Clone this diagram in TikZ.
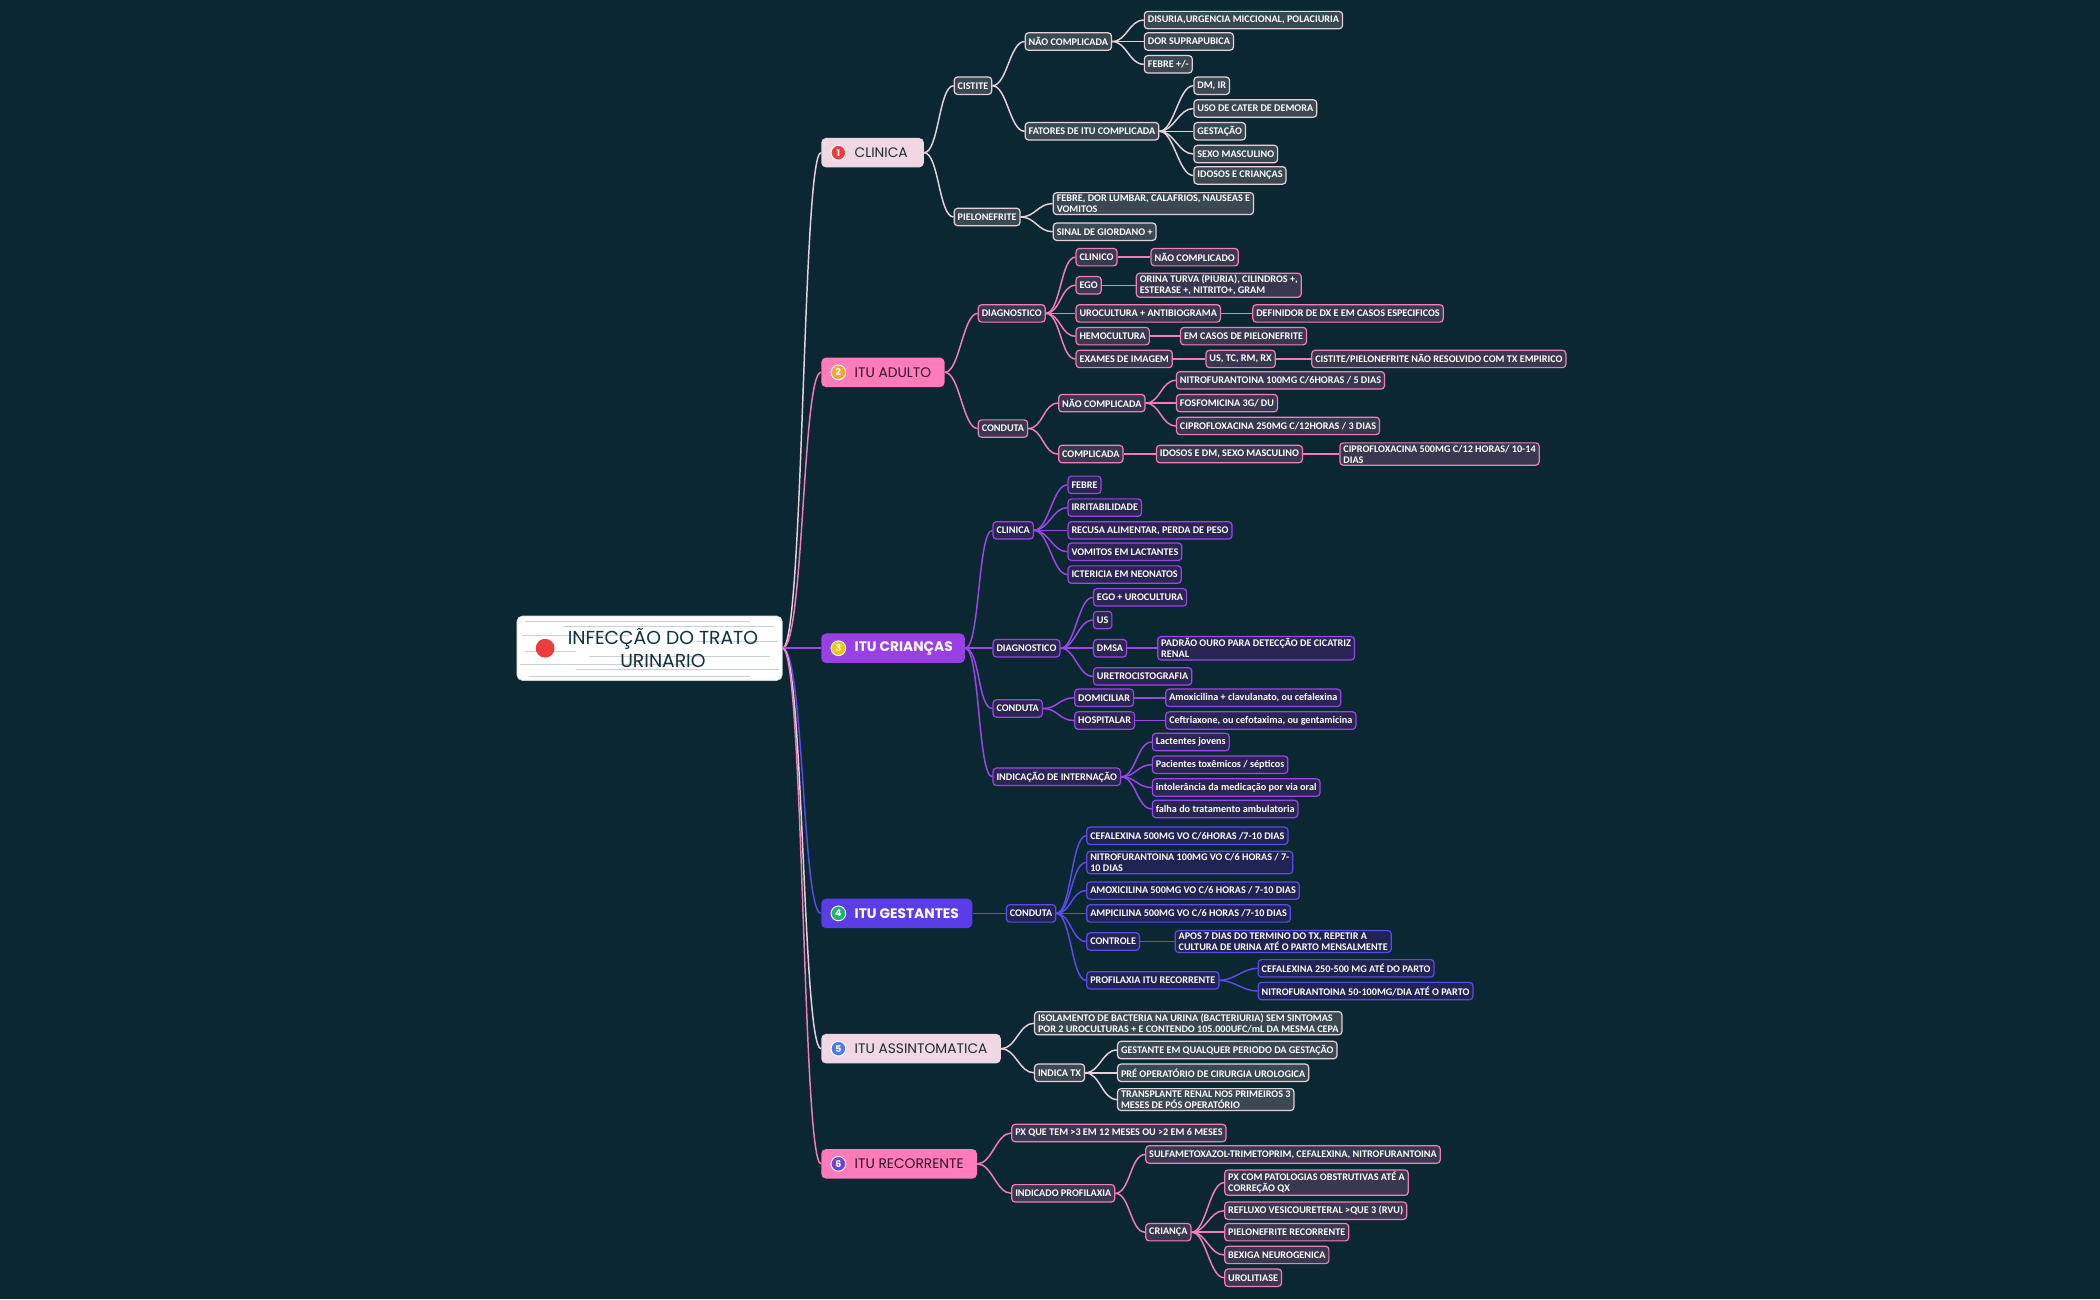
\documentclass[tikz,border=0pt]{standalone}
\usepackage{fontspec}
\setmainfont{Carlito}
\newfontfamily\popf{Poppins}
\definecolor{bg}{HTML}{0B2832}
\definecolor{lpinkM}{HTML}{EFD8E3}
\definecolor{lpinkB}{HTML}{E6D1DB}
\definecolor{slateF}{HTML}{3A4852}
\definecolor{pinkM}{HTML}{FF7BB9}
\definecolor{pinkB}{HTML}{F47CB9}
\definecolor{pinkF}{HTML}{3A3850}
\definecolor{violM}{HTML}{9A3FE6}
\definecolor{violB}{HTML}{9C45EA}
\definecolor{violF}{HTML}{2A2552}
\definecolor{indM}{HTML}{5A3DE6}
\definecolor{indB}{HTML}{5B4BEA}
\definecolor{indF}{HTML}{1F2454}
\definecolor{darkT}{HTML}{1F2A33}
\definecolor{pinkT}{HTML}{2B1626}
\definecolor{rootT}{HTML}{12303A}
\definecolor{texG}{HTML}{C9D0D4}
\definecolor{bRed}{HTML}{EE3B3B}
\definecolor{bOra}{HTML}{F7A233}
\definecolor{bYel}{HTML}{F2C40F}
\definecolor{bGre}{HTML}{1FB46E}
\definecolor{bBlu}{HTML}{4C79F2}
\definecolor{bPur}{HTML}{6A45D6}
\tikzset{
  sub/.style={draw, rounded corners=2.5pt, line width=0.9pt, inner xsep=2.6pt, inner ysep=1.5pt,
    minimum height=13pt, anchor=west, align=left, text=white,
    font=\fontsize{7.6}{8.3}\selectfont\bfseries},
  subL/.style={sub, fill=slateF, draw=lpinkB},
  subP/.style={sub, fill=pinkF, draw=pinkB},
  subV/.style={sub, fill=violF, draw=violB},
  subI/.style={sub, fill=indF, draw=indB},
  mainb/.style={rounded corners=3.5pt, minimum height=22pt, inner xsep=0pt, inner ysep=0pt, anchor=west,
    font=\popf\fontsize{10.3}{12}\selectfont},
  mainbold/.style={mainb, font=\popf\bfseries\fontsize{10.3}{12}\selectfont},
  badge/.style={circle, draw=white, line width=0.7pt, inner sep=0pt, minimum size=11pt, text=white,
    font=\popf\bfseries\fontsize{7}{7}\selectfont},
  cLk/.style={draw=lpinkB, line width=1.1pt},
  cPk/.style={draw=pinkB, line width=1.1pt},
  cVi/.style={draw=violB, line width=1.1pt},
  cIn/.style={draw=indB, line width=1.1pt},
}
\newcommand\cnx[3]{\draw[#1] (#2.east) .. controls ([xshift=11pt]#2.east) and ([xshift=-11pt]#3.west) .. (#3.west);}
\newcommand\rootcnx[2]{\draw[#1] (root.east) .. controls ([xshift=16pt]root.east) and ([xshift=-14pt]#2.west) .. (#2.west);}
\begin{document}
\begin{tikzpicture}[x=1pt,y=-1pt]
\useasboundingbox (0,0) rectangle (1568,970);
\fill[bg] (0,0) rectangle (1568,970);

% ---------- root ----------
\node[draw=texG, fill=white, rounded corners=4pt, line width=0.6pt, minimum width=198pt, minimum height=48pt, inner sep=0pt] (root) at (485,484) {};
\foreach \yy/\xa/\xb in {464/392/560, 468/420/578, 474/390/470, 479/520/580, 486/392/430, 490/440/575, 496/388/520, 500/430/582, 505/395/560}
  \draw[texG, line width=0.5pt] (\xa,\yy) -- (\xb,\yy);
\node[circle, fill=bRed, inner sep=0pt, minimum size=14pt] (rdot) at (407,484) {};
\node[text=rootT, align=center, font=\popf\fontsize{14}{17}\selectfont] (rootTx) at (495,484) {INFECÇÃO DO TRATO\\URINARIO};

% ---------- main nodes ----------
\node[mainb, fill=lpinkM, text=darkT] (m1) at (613,114) {\hspace*{25pt}CLINICA\hspace*{12pt}};
\node[mainb, fill=pinkM, text=pinkT] (m2) at (613,278) {\hspace*{25pt}ITU ADULTO\hspace*{10pt}};
\node[mainbold, fill=violM, text=white] (m3) at (613,484) {\hspace*{25pt}ITU CRIANÇAS\hspace*{9pt}};
\node[mainbold, fill=indM, text=white] (m4) at (613,682) {\hspace*{25pt}ITU GESTANTES\hspace*{10pt}};
\node[mainb, fill=lpinkM, text=darkT] (m5) at (613,783) {\hspace*{25pt}ITU ASSINTOMATICA\hspace*{10pt}};
\node[mainb, fill=pinkM, text=pinkT] (m6) at (613,869) {\hspace*{25pt}ITU RECORRENTE\hspace*{10pt}};
\node[badge, fill=bRed] (bd1) at (626,114) {1};
\node[badge, fill=bOra] (bd2) at (626,278) {2};
\node[badge, fill=bYel] (bd3) at (626,484) {3};
\node[badge, fill=bGre] (bd4) at (626,682) {4};
\node[badge, fill=bBlu] (bd5) at (626,783) {5};
\node[badge, fill=bPur] (bd6) at (626,869) {6};

\rootcnx{cLk}{m1}
\rootcnx{cPk}{m2}
\rootcnx{cVi}{m3}
\rootcnx{cIn}{m4}
\rootcnx{cLk}{m5}
\rootcnx{cPk}{m6}

% ---------- 1 CLINICA ----------
\node[subL] (a1) at (712,64) {CISTITE};
\node[subL] (a2) at (765,31) {NÃO COMPLICADA};
\node[subL] (a3) at (854,15) {DISURIA,URGENCIA MICCIONAL, POLACIURIA};
\node[subL] (a4) at (854,31) {DOR SUPRAPUBICA};
\node[subL] (a5) at (854,48) {FEBRE +/-};
\node[subL] (a6) at (765,98) {FATORES DE ITU COMPLICADA};
\node[subL] (a7) at (891,64) {DM, IR};
\node[subL] (a8) at (891,81) {USO DE CATER DE DEMORA};
\node[subL] (a9) at (891,98) {GESTAÇÃO};
\node[subL] (a10) at (891,115) {SEXO MASCULINO};
\node[subL] (a11) at (891,131) {IDOSOS E CRIANÇAS};
\node[subL] (a12) at (712,162) {PIELONEFRITE};
\node[subL] (a13) at (786,152) {FEBRE, DOR LUMBAR, CALAFRIOS, NAUSEAS E\\VOMITOS};
\node[subL] (a14) at (786,173) {SINAL DE GIORDANO +};
\cnx{cLk}{m1}{a1}\cnx{cLk}{m1}{a12}
\cnx{cLk}{a1}{a2}\cnx{cLk}{a1}{a6}
\cnx{cLk}{a2}{a3}\cnx{cLk}{a2}{a4}\cnx{cLk}{a2}{a5}
\cnx{cLk}{a6}{a7}\cnx{cLk}{a6}{a8}\cnx{cLk}{a6}{a9}\cnx{cLk}{a6}{a10}\cnx{cLk}{a6}{a11}
\cnx{cLk}{a12}{a13}\cnx{cLk}{a12}{a14}

% ---------- 2 ITU ADULTO ----------
\node[subP] (b1) at (730,234) {DIAGNOSTICO};
\node[subP] (b2) at (803,192) {CLINICO};
\node[subP] (b3) at (859,192) {NÃO COMPLICADO};
\node[subP] (b4) at (803,213) {EGO};
\node[subP] (b5) at (848,213) {ORINA TURVA (PIURIA), CILINDROS +,\\ESTERASE +, NITRITO+, GRAM};
\node[subP] (b6) at (803,234) {UROCULTURA + ANTIBIOGRAMA};
\node[subP] (b7) at (935,234) {DEFINIDOR DE DX E EM CASOS ESPECIFICOS};
\node[subP] (b8) at (803,251) {HEMOCULTURA};
\node[subP] (b9) at (881,251) {EM CASOS DE PIELONEFRITE};
\node[subP] (b10) at (803,268) {EXAMES DE IMAGEM};
\node[subP] (b11) at (900,268) {US, TC, RM, RX};
\node[subP] (b12) at (979,268) {CISTITE/PIELONEFRITE NÃO RESOLVIDO COM TX EMPIRICO};
\node[subP] (b13) at (730,320) {CONDUTA};
\node[subP] (b14) at (790,301) {NÃO COMPLICADA};
\node[subP] (b15) at (878,284) {NITROFURANTOINA 100MG C/6HORAS / 5 DIAS};
\node[subP] (b16) at (878,301) {FOSFOMICINA 3G/ DU};
\node[subP] (b17) at (878,318) {CIPROFLOXACINA 250MG C/12HORAS / 3 DIAS};
\node[subP] (b18) at (790,339) {COMPLICADA};
\node[subP] (b19) at (863,339) {IDOSOS E DM, SEXO MASCULINO};
\node[subP] (b20) at (1000,339) {CIPROFLOXACINA 500MG C/12 HORAS/ 10-14\\DIAS};
\cnx{cPk}{m2}{b1}\cnx{cPk}{m2}{b13}
\cnx{cPk}{b1}{b2}\cnx{cPk}{b1}{b4}\cnx{cPk}{b1}{b6}\cnx{cPk}{b1}{b8}\cnx{cPk}{b1}{b10}
\cnx{cPk}{b2}{b3}\cnx{cPk}{b4}{b5}\cnx{cPk}{b6}{b7}\cnx{cPk}{b8}{b9}\cnx{cPk}{b10}{b11}\cnx{cPk}{b11}{b12}
\cnx{cPk}{b13}{b14}\cnx{cPk}{b13}{b18}
\cnx{cPk}{b14}{b15}\cnx{cPk}{b14}{b16}\cnx{cPk}{b14}{b17}
\cnx{cPk}{b18}{b19}\cnx{cPk}{b19}{b20}

% ---------- 3 ITU CRIANCAS ----------
\node[subV] (c1) at (741,396) {CLINICA};
\node[subV] (c2) at (797,362) {FEBRE};
\node[subV] (c3) at (797,379) {IRRITABILIDADE};
\node[subV] (c4) at (797,396) {RECUSA ALIMENTAR, PERDA DE PESO};
\node[subV] (c5) at (797,412) {VOMITOS EM LACTANTES};
\node[subV] (c6) at (797,429) {ICTERICIA EM NEONATOS};
\node[subV] (c7) at (741,484) {DIAGNOSTICO};
\node[subV] (c8) at (816,446) {EGO + UROCULTURA};
\node[subV] (c9) at (816,463) {US};
\node[subV] (c10) at (816,484) {DMSA};
\node[subV] (c11) at (864,484) {PADRÃO OURO PARA DETECÇÃO DE CICATRIZ\\RENAL};
\node[subV] (c12) at (816,505) {URETROCISTOGRAFIA};
\node[subV] (c13) at (741,529) {CONDUTA};
\node[subV] (c14) at (802,521) {DOMICILIAR};
\node[subV] (c15) at (870,521) {Amoxicilina + clavulanato, ou cefalexina};
\node[subV] (c16) at (802,538) {HOSPITALAR};
\node[subV] (c17) at (870,538) {Ceftriaxone, ou cefotaxima, ou gentamicina};
\node[subV] (c18) at (741,580) {INDICAÇÃO DE INTERNAÇÃO};
\node[subV] (c19) at (860,554) {Lactentes jovens};
\node[subV] (c20) at (860,571) {Pacientes toxêmicos / sépticos};
\node[subV] (c21) at (860,588) {intolerância da medicação por via oral};
\node[subV] (c22) at (860,604) {falha do tratamento ambulatoria};
\cnx{cVi}{m3}{c1}\cnx{cVi}{m3}{c7}\cnx{cVi}{m3}{c13}\cnx{cVi}{m3}{c18}
\cnx{cVi}{c1}{c2}\cnx{cVi}{c1}{c3}\cnx{cVi}{c1}{c4}\cnx{cVi}{c1}{c5}\cnx{cVi}{c1}{c6}
\cnx{cVi}{c7}{c8}\cnx{cVi}{c7}{c9}\cnx{cVi}{c7}{c10}\cnx{cVi}{c7}{c12}\cnx{cVi}{c10}{c11}
\cnx{cVi}{c13}{c14}\cnx{cVi}{c13}{c16}\cnx{cVi}{c14}{c15}\cnx{cVi}{c16}{c17}
\cnx{cVi}{c18}{c19}\cnx{cVi}{c18}{c20}\cnx{cVi}{c18}{c21}\cnx{cVi}{c18}{c22}

% ---------- 4 ITU GESTANTES ----------
\node[subI] (d1) at (751,682) {CONDUTA};
\node[subI] (d2) at (811,624) {CEFALEXINA 500MG VO C/6HORAS /7-10 DIAS};
\node[subI] (d3) at (811,644) {NITROFURANTOINA 100MG VO C/6 HORAS / 7-\\10 DIAS};
\node[subI] (d4) at (811,665) {AMOXICILINA 500MG VO C/6 HORAS / 7-10 DIAS};
\node[subI] (d5) at (811,682) {AMPICILINA 500MG VO C/6 HORAS /7-10 DIAS};
\node[subI] (d6) at (811,703) {CONTROLE};
\node[subI] (d7) at (877,703) {APOS 7 DIAS DO TERMINO DO TX, REPETIR A\\CULTURA DE URINA ATÉ O PARTO MENSALMENTE};
\node[subI] (d8) at (811,732) {PROFILAXIA ITU RECORRENTE};
\node[subI] (d9) at (939,723) {CEFALEXINA 250-500 MG ATÉ DO PARTO};
\node[subI] (d10) at (939,740) {NITROFURANTOINA 50-100MG/DIA ATÉ O PARTO};
\cnx{cIn}{m4}{d1}
\cnx{cIn}{d1}{d2}\cnx{cIn}{d1}{d3}\cnx{cIn}{d1}{d4}\cnx{cIn}{d1}{d5}\cnx{cIn}{d1}{d6}\cnx{cIn}{d1}{d8}
\cnx{cIn}{d6}{d7}\cnx{cIn}{d8}{d9}\cnx{cIn}{d8}{d10}

% ---------- 5 ITU ASSINTOMATICA ----------
\node[subL] (e1) at (772,764) {ISOLAMENTO DE BACTERIA NA URINA (BACTERIURIA) SEM SINTOMAS\\POR 2 UROCULTURAS + E CONTENDO 105.000UFC/mL DA MESMA CEPA};
\node[subL] (e2) at (772,801) {INDICA TX};
\node[subL] (e3) at (834,784) {GESTANTE EM QUALQUER PERIODO DA GESTAÇÃO};
\node[subL] (e4) at (834,801) {PRÉ OPERATÓRIO DE CIRURGIA UROLOGICA};
\node[subL] (e5) at (834,821) {TRANSPLANTE RENAL NOS PRIMEIROS 3\\MESES DE PÓS OPERATÓRIO};
\cnx{cLk}{m5}{e1}\cnx{cLk}{m5}{e2}
\cnx{cLk}{e2}{e3}\cnx{cLk}{e2}{e4}\cnx{cLk}{e2}{e5}

% ---------- 6 ITU RECORRENTE ----------
\node[subP] (f1) at (755,846) {PX QUE TEM >3 EM 12 MESES OU >2 EM 6 MESES};
\node[subP] (f2) at (755,891) {INDICADO PROFILAXIA};
\node[subP] (f3) at (855,862) {SULFAMETOXAZOL-TRIMETOPRIM, CEFALEXINA, NITROFURANTOINA};
\node[subP] (f4) at (855,920) {CRIANÇA};
\node[subP] (f5) at (914,883) {PX COM PATOLOGIAS OBSTRUTIVAS ATÉ A\\CORREÇÃO QX};
\node[subP] (f6) at (914,904) {REFLUXO VESICOURETERAL >QUE 3 (RVU)};
\node[subP] (f7) at (914,920) {PIELONEFRITE RECORRENTE};
\node[subP] (f8) at (914,937) {BEXIGA NEUROGENICA};
\node[subP] (f9) at (914,954) {UROLITIASE};
\cnx{cPk}{m6}{f1}\cnx{cPk}{m6}{f2}
\cnx{cPk}{f2}{f3}\cnx{cPk}{f2}{f4}
\cnx{cPk}{f4}{f5}\cnx{cPk}{f4}{f6}\cnx{cPk}{f4}{f7}\cnx{cPk}{f4}{f8}\cnx{cPk}{f4}{f9}
\end{tikzpicture}
\end{document}
